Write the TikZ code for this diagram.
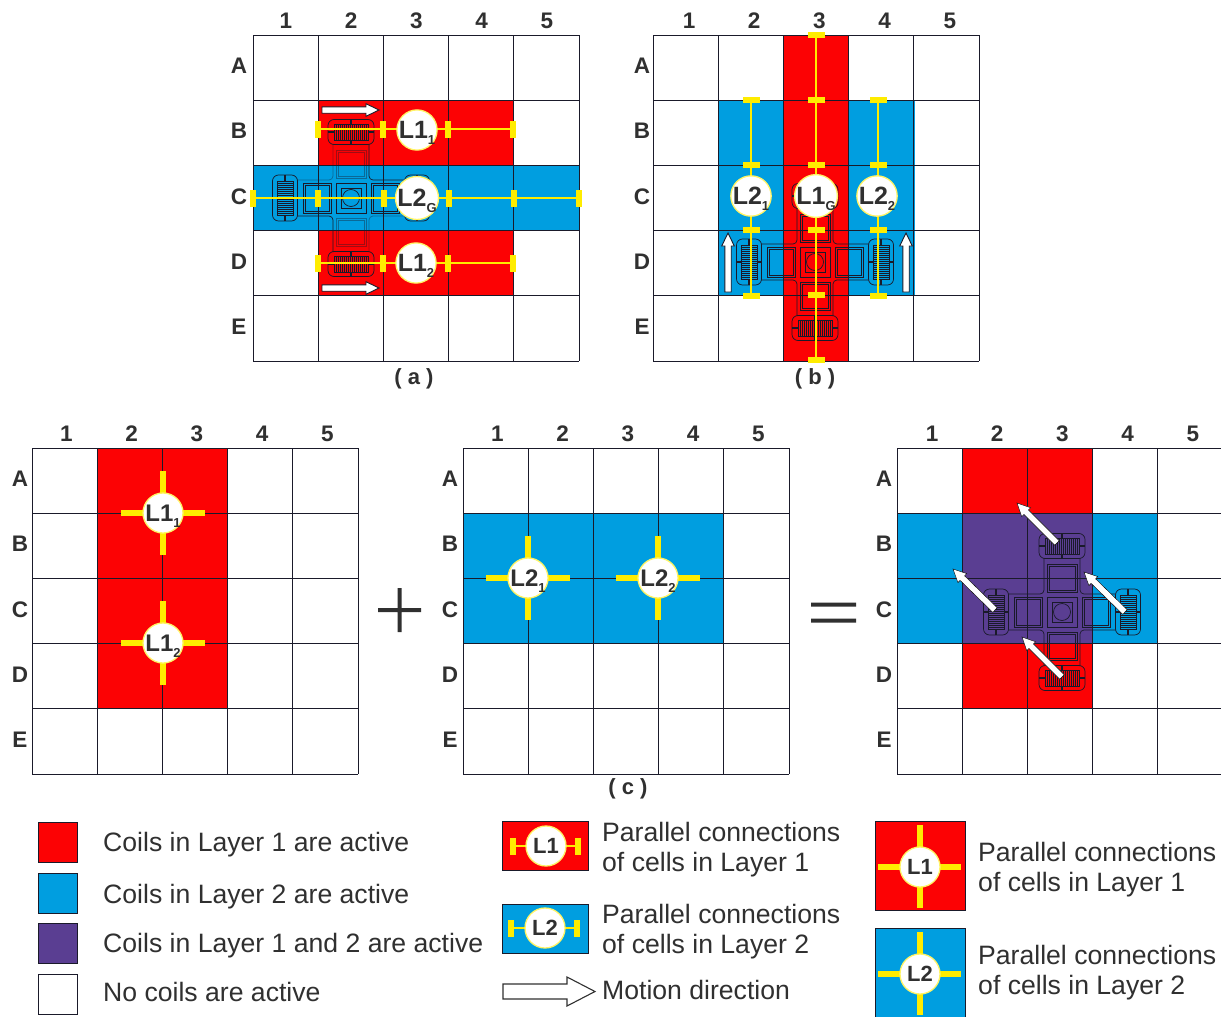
\documentclass[tikz,border=0pt]{standalone}
\usepackage{fontspec}
\setmainfont{Liberation Sans}
\usetikzlibrary{calc}
\definecolor{cred}{HTML}{FC0204}
\definecolor{cblue}{HTML}{009EE0}
\definecolor{cpurple}{HTML}{5A3E92}
\definecolor{cyel}{HTML}{FFEC00}
\definecolor{cline}{HTML}{1A1A2A}
\definecolor{ctext}{HTML}{303030}
\tikzset{
  x=1pt,y=-1pt,
  gridline/.style={draw=cline,line width=1pt},
  collabel/.style={font=\fontsize{22.5}{22.5}\selectfont\bfseries,text=ctext,inner sep=0pt},
  caplabel/.style={font=\fontsize{22}{22}\selectfont\bfseries,text=ctext,inner sep=0pt},
  legtext/.style={font=\fontsize{26.6}{30}\selectfont,text=ctext,inner sep=0pt,anchor=west,align=left},
  lcircle/.style={circle,fill=white,draw=cyel!60!white,line width=1.3pt,minimum size=40pt,inner sep=0pt,text=ctext,font=\fontsize{25}{25}\selectfont\bfseries},
  lcirclec/.style={lcircle,font=\fontsize{24}{24}\selectfont\bfseries},
  lcirclel/.style={lcircle,font=\fontsize{22}{22}\selectfont\bfseries},
  barv/.style={fill=cyel,inner sep=0pt,minimum width=6pt,minimum height=17pt},
  barh/.style={fill=cyel,inner sep=0pt,minimum width=17pt,minimum height=6pt},
  ylink/.style={draw=cyel,line width=1.5pt},
  yarm/.style={draw=cyel,line width=6.5pt},
  device/.style={draw=cline,line width=.7pt},
  swatch/.style={draw=cline,line width=.8pt},
  motion/.style={draw=cline,line width=.9pt,fill=white},
  whitearrow/.style={fill=white},
}
\newcommand{\subs}[1]{\smash{\raisebox{-.25em}{\fontsize{13}{13}\selectfont #1}}}
% x, y, prefix, column label shift, row label shift
\newcommand{\gridbox}[5]{%
  \foreach \i in {0,...,5}{
    \draw[gridline] (#1+65.2*\i,#2) -- (#1+65.2*\i,#2+326);
    \draw[gridline] (#1,#2+65.2*\i) -- (#1+326,#2+65.2*\i);
  }
  \foreach \n [count=\i from 0] in {1,2,3,4,5}
    \node[collabel] (#3c\n) at (#1+33+#4+65.2*\i,#2-14) {\n};
  \foreach \n [count=\i from 0] in {A,B,C,D,E}
    \node[collabel] (#3r\n) at (#1-14+#5,#2+31+65.2*\i) {\n};
}
% x, y, opacity of the vertical arms
\newcommand{\device}[3]{%
  \begin{scope}[shift={(#1,#2)},device]
    \draw (-15,-15) rectangle (15,15);
    \draw (-10,-10) rectangle (10,10);
    \draw (0,0) circle (8.5);
    \foreach \a/\op in {0/#3,90/1,180/#3,270/1}{
      \begin{scope}[rotate=\a]
        \begin{scope}[draw opacity=\op]
          \draw[line width=.9pt] (-15,-48) rectangle (15,-20);
          \draw[line width=.4pt] (-13,-46) rectangle (13,-22);
          \draw[rounded corners=4pt] (-18,-54) -- (-18,-18) -- (-54,-18);
        \end{scope}
        \draw[rounded corners=6pt] (-23,-53.5) -- (-23,-78.5) -- (23,-78.5) -- (23,-53.5) -- cycle;
        \draw (-17,-74) rectangle (17,-58);
        \foreach \k in {-15,-13,...,15}{ \draw[line width=.8pt] (\k,-74) -- (\k,-58); }
        \draw[line width=1.2pt] (0,-78.5) -- (0,-74) (0,-58) -- (0,-53.5);
        \draw[line width=1.2pt] (-23,-66) -- (-17,-66) (17,-66) -- (23,-66);
      \end{scope}
    }
  \end{scope}
}
% tail x, tail y, tip x, tip y, style
\newcommand{\shaftarrow}[5]{%
  \path (#1,#2) coordinate (tl) (#3,#4) coordinate (tp);
  \draw[#5] ($(tl)!3.2pt!90:(tp)$) -- ($(tp)!13pt!(tl)!3.2pt!90:(tp)$) -- ($(tp)!13pt!(tl)!6.3pt!90:(tp)$) -- (tp)
     -- ($(tp)!13pt!(tl)!-6.3pt!90:(tp)$) -- ($(tp)!13pt!(tl)!-3.2pt!90:(tp)$) -- ($(tl)!-3.2pt!90:(tp)$) -- cycle;
}
\begin{document}
\begin{tikzpicture}
\useasboundingbox (0,0) rectangle (1221,1017);
\fill[white] (0,0) rectangle (1221,1017);

% ---- (a)
\fill[cred] (318,100) rectangle (514,296);
\fill[cblue] (253,165) rectangle (579,230);
\gridbox{253}{35}{a}{0}{0}
\device{351}{198}{.4}
\foreach \nm/\x/\y in {b1/318/129,b2/383/129,b3/448/129,b4/513/129,
  c1/253/198,c2/318/198,c3/384/198,c4/449/198,c5/514/198,c6/579/198,
  d1/318/263,d2/383/263,d3/448/263,d4/513/263}
  \node[barv] (a\nm) at (\x,\y) {};
\draw[ylink] (ab1) -- (ab4);
\draw[ylink] (ac1) -- (ac6);
\draw[ylink] (ad1) -- (ad4);
\node[lcircle] (aL11) at (417,130) {L1\subs{1}};
\node[lcircle] (aL2G) at (417,198) {L2\subs{G}};
\node[lcircle] (aL12) at (416,263) {L1\subs{2}};
\shaftarrow{322}{110}{379}{110}{motion}
\shaftarrow{322}{288}{379}{288}{motion}
\node[caplabel] (capa) at (414,379) {( a )};

% ---- (b)
\fill[cblue] (718,100) rectangle (915,296);
\fill[cred] (784,35) rectangle (849,361);
\gridbox{653}{35}{b}{3}{3}
\device{815}{262}{1}
\foreach \nm/\x/\y in {a/816/35,b/816/100,c/816/165,d/816/230,e/816/295,f/816/360,
  g/751/100,h/751/165,i/751/230,j/751/296,
  k/878/100,l/878/165,m/878/230,n/878/296}
  \node[barh] (b\nm) at (\x,\y) {};
\draw[ylink] (ba) -- (bf);
\draw[ylink] (bg) -- (bj);
\draw[ylink] (bk) -- (bn);
\node[lcircle] (bL21) at (751,196) {L2\subs{1}};
\node[lcircle] (bL1G) at (816,196) {L1\subs{G}};
\node[lcircle] (bL22) at (877,196) {L2\subs{2}};
\shaftarrow{728}{292}{728}{233}{motion}
\shaftarrow{906}{292}{906}{233}{motion}
\node[caplabel] (capb) at (815,379) {( b )};

% ---- (c) left
\fill[cred] (97,448) rectangle (228,709);
\gridbox{32}{448}{p}{1.5}{2}
\foreach \nm/\t/\x/\y in {pa/{L1\subs{1}}/163/513,pb/{L1\subs{2}}/163/643}{
  \draw[yarm] (\x-42,\y) -- (\x+42,\y) (\x,\y-42) -- (\x,\y+42);
  \node[lcirclec] (\nm) at (\x,\y) {\t};
}
% ---- (c) middle
\fill[cblue] (463,513) rectangle (723,643);
\gridbox{463}{448}{q}{1.5}{1}
\foreach \nm/\t/\x/\y in {qa/{L2\subs{1}}/528/578,qb/{L2\subs{2}}/658/578}{
  \draw[yarm] (\x-42,\y) -- (\x+42,\y) (\x,\y-42) -- (\x,\y+42);
  \node[lcirclec] (\nm) at (\x,\y) {\t};
}
% ---- (c) right
\fill[cred] (962,448) rectangle (1093,709);
\fill[cblue] (897,513) rectangle (1158,643);
\fill[cpurple] (962,513) rectangle (1093,643);
\gridbox{897}{448}{r}{2}{1}
\device{1062}{612}{1}
\shaftarrow{1057}{543}{1017}{503}{whitearrow}
\shaftarrow{995}{610}{953}{569}{whitearrow}
\shaftarrow{1125}{612}{1084}{572}{whitearrow}
\shaftarrow{1062}{677}{1022}{637}{whitearrow}
\node[caplabel] (capc) at (628,789) {( c )};

% plus / equals
\fill[ctext] (378,608) rectangle (421,612) (397.5,588) rectangle (401.5,632);
\fill[ctext] (811,602.5) rectangle (856,606.5) (811,618.5) rectangle (856,622.5);

% ---- legend left
\foreach \nm/\c/\y/\ty/\t in {la/cred/822/845/Coils in Layer 1 are active,lb/cblue/873/897/Coils in Layer 2 are active,lc/cpurple/923/946/Coils in Layer 1 and 2 are active,ld/white/974/992/No coils are active}{
  \node[swatch,fill=\c,minimum width=39.5pt,minimum height=39.5pt,inner sep=0pt,anchor=north west] (\nm) at (37.5,\y) {};
  \node[legtext] (\nm t) at (103,\ty) {\t};
}
% ---- legend middle
\filldraw[fill=cred,draw=cline,line width=.8pt] (502,821) rectangle (588,870.5);
\node[barv,minimum width=6.5pt] (m1a) at (513,846) {};
\node[barv,minimum width=6.5pt] (m1b) at (578,846) {};
\draw[ylink] (m1a) -- (m1b);
\node[lcirclel] (m1) at (546,846) {L1};
\filldraw[fill=cblue,draw=cline,line width=.8pt] (502,904) rectangle (588,953);
\node[barv,minimum width=6.5pt] (m2a) at (511,928) {};
\node[barv,minimum width=6.5pt] (m2b) at (577,928) {};
\draw[ylink] (m2a) -- (m2b);
\node[lcirclel] (m2) at (545,928) {L2};
\node[legtext] (m1t) at (602,850) {Parallel connections\\of cells in Layer 1};
\node[legtext] (m2t) at (602,932) {Parallel connections\\of cells in Layer 2};
\draw[draw=ctext,line width=1.1pt,fill=white] (503,984) -- (567,984) -- (567,977) -- (595,991.5) -- (567,1006) -- (567,999) -- (503,999) -- cycle;
\node[legtext] (m3t) at (602,990) {Motion direction};
% ---- legend right
\foreach \nm/\c/\y/\t in {r1/cred/821/L1,r2/cblue/928/L2}{
  \filldraw[fill=\c,draw=cline,line width=.8pt] (875,\y) rectangle (965,\y+89);
  \draw[yarm] (878,\y+46) -- (961,\y+46) (920,\y+4) -- (920,\y+87);
  \node[lcirclel] (\nm) at (920,\y+46) {\t};
}
\node[legtext] (r1t) at (978,870) {Parallel connections\\of cells in Layer 1};
\node[legtext] (r2t) at (978,973) {Parallel connections\\of cells in Layer 2};
\end{tikzpicture}
\end{document}
